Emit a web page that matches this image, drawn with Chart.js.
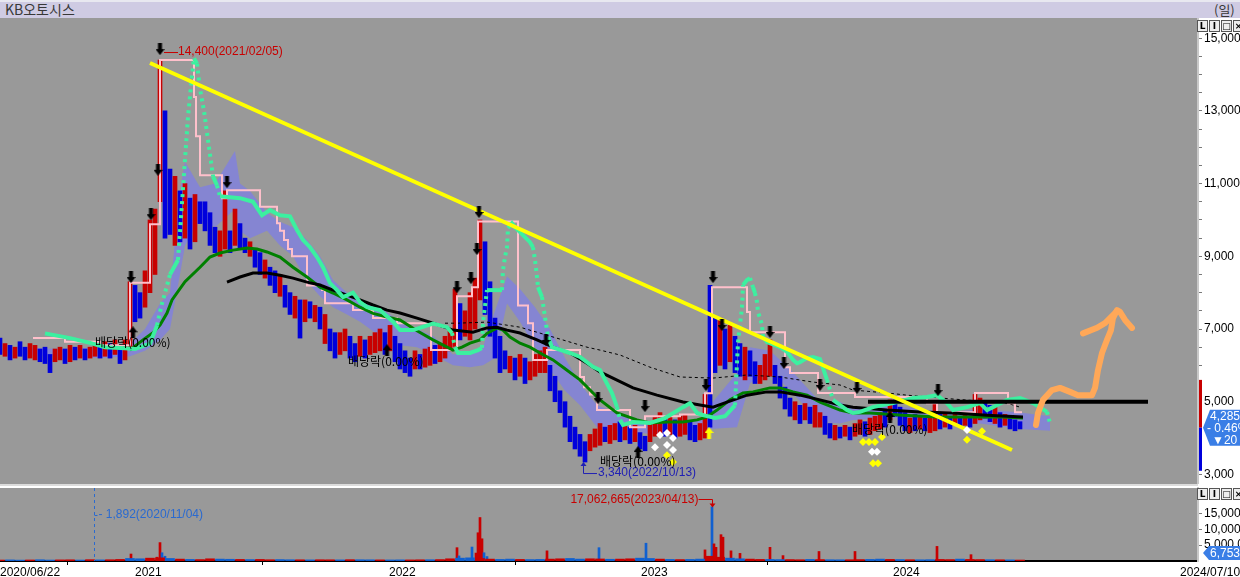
<!DOCTYPE html>
<html>
<head>
<meta charset="utf-8">
<script src="https://cdn.jsdelivr.net/npm/chart.js@4.4.1/dist/chart.umd.min.js"></script>
<style>
  body { margin: 0; width: 1240px; height: 577px; overflow: hidden; background: #fff; position: relative; }
  #title { position: absolute; left: 0; top: 0; width: 1240px; height: 18px; background: #cfcbe3; border-top: 2px solid #e8e8f0; box-sizing: border-box; }
  #title .name { position: absolute; left: 5px; top: -1px; font: 14px/17px 'Noto Sans CJK KR', sans-serif; color: #383838; }
  #title .per { position: absolute; left: 1214px; top: -1px; font: 13px/17px 'Noto Sans CJK KR', sans-serif; color: #383838; white-space: nowrap; }
  #pc { position: absolute; left: 0; top: 18px; }
  #sep { position: absolute; left: 0; top: 484px; width: 1198px; height: 2px; background: #dcdcdc; }
  #vc { position: absolute; left: 0; top: 486px; }
  .ic { position: absolute; left: 1197px; display: flex; gap: 1px; }
  .ic span { width: 9px; height: 10px; border: 1px solid #555; background: #eee; font: bold 9px/10px 'DejaVu Sans', sans-serif; text-align: center; color: #000; }
</style>
</head>
<body>
<div id="title"><span class="name">KB오토시스</span><span class="per">(일)</span></div>
<canvas id="pc" width="1240" height="466"></canvas>
<div id="sep"></div>
<canvas id="vc" width="1240" height="91"></canvas>
<div class="ic" style="top:20px"><span>L</span><span>I</span><span>□</span><span>×</span></div>
<div class="ic" style="top:488px"><span>L</span><span>I</span><span>□</span><span>×</span></div>
<script>
// 일봉: 5거래일마다 고가/저가 (x = 거래일 번호, 2020/06/22 = 0)
const STEP = 5;
const candleLow = [6300,6250,6150,6200,6250,6150,6200,6150,6100,6050, 5800,6100,6150,6050,6100,6150,6200,6150,6200,6250,
  6200,6250,6200,6300,6050,6150,6500,7200,7300,7600, 8000,8500,10500,9500,9600,9300,9400,9500,9200,9400,
  9900,9700,9300,9100,9000,9200,9100,9300,9200,9100, 9000,8700,8500,8400,8200,8000,7900,7600,7400,7300,
  6750,7200,7300,7200,7000,6600,6400,6200,6300,6400, 6200,6100,6250,6200,6300,6350,6400,6300,6400,6100,
  5900,5800,5700,5900,5900,5950,6000,6050,6100,6200, 6400,6500,6700,6800,6700,7000,7800,7400,6800,6200,
  5800,5900,5800,5600,5700,5500,5600,5700,5800,5800, 5300,5000,4700,4300,3900,3700,3500,3340,3650,3750,
  3800,3900,3850,3950,3900,3950,3850,3900,3700,3650, 3900,4050,4100,4050,4100,4000,4050,4100,3950,3900,
  3950,4000,4300,5800,6000,5900,6100,5800,5700,5600, 5700,5500,5500,5600,5700,5500,5100,4800,4600,4500,
  4400,4500,4400,4300,4300,4100,4000,3950,4000,4050, 3950,4050,4100,4050,4100,4200,4250,4300,4500,4600,
  4350,4200,4150,4200,4250,4200,4150,4200,4250,4300, 4250,4350,4300,4350,4300,4400,4500,4550,4450,4400,
  4300,4350,4250,4200,4250];
const candleHigh = [6750,6600,6550,6500,6650,6500,6600,6550,6450,6500, 6300,6450,6500,6450,6550,6500,6550,6450,6500,6600,
  6550,6650,6600,6700,6450,6700,8300,8200,8000,8600, 10000,10300,14400,13000,11400,11200,10800,11000,10600,10700,
  10500,10500,10200,9800,9700,10800,9700,10300,9900,9500, 9400,9200,9100,8900,8700,8600,8500,8200,8000,7900,
  7800,7800,7750,7650,7600,7400,7000,6900,6900,7000, 6800,6600,6800,6700,6800,6900,7000,6900,7100,6800,
  6600,6400,6200,6400,6300,6450,6500,6550,6600,6800, 7000,8100,7700,7500,8000,8400,10000,9400,8300,7300,
  6800,6400,6250,6200,6300,6200,6100,6300,6400,6500, 6000,5700,5300,5000,4600,4300,4100,3900,4100,4250,
  4400,4300,4350,4400,4450,4350,4300,4350,4150,4050, 4400,4600,4700,4550,4600,4500,4600,4650,4450,4350,
  4400,5200,8200,7300,7300,7000,7100,6800,6600,6500, 6400,6100,6000,6300,6700,6000,5700,5400,5100,5000,
  4900,4950,4850,4900,4700,4600,4400,4350,4300,4350, 4300,4400,4500,4450,4550,4600,4700,4750,5050,5050,
  4850,4700,4550,4650,4600,4550,4550,5000,4650,4700, 4600,4700,4600,4650,4600,5200,5100,5000,4900,4850,
  4700,4650,4600,4500,4450];
const candleDir = ('dududduudd' + 'duudududuu' + 'dududuuddu' + 'uuuddududu' + 'dddduududd' +
  'uddudduddu' + 'dudududduu' + 'dduduuudud' + 'ddduduuduu' + 'uuduuuuddd' +
  'ddududuuuu' + 'dddddddduu' + 'uduudududd' + 'uuududuudd' + 'uuddududdu' +
  'dduuuddddu' + 'duduuddudu' + 'duuduuudud' + 'ddududuudu' + 'dududuuddu' + 'duddd').split('');

// 52일 고가형 계단선 [시작일, 값]
const pinkLine = [[33,6750],[65,6650],[100,6550],[130,8270],[150,9880],[160,14400],[194,13380],[196,12300],[200,11230],
  [222,10600],[227,10820],[260,10360],[277,9910],[280,9700],[284,9450],[288,9200],[292,9000],[307,8200],[322,8070],
  [325,7710],[353,7520],[373,7300],[397,7160],[431,6420],[457,7900],[472,8150],[478,9960],[518,7650],[528,7160],
  [533,6150],[547,6420],[580,5680],[584,5400],[590,5200],[597,4770],[630,4300],[645,4600],[680,4650],[705,5230],
  [712,8150],[747,7470],[750,6910],[785,5950],[790,5790],[818,5240],[855,5130],[927,4960],[937,4710],[975,5240],
  [1008,4960],[1015,4710],[1022,4710]];

const mintLine = [[45,6880],[70,6750],[90,6620],[105,6500],[125,6470],[135,6450],[150,6600],[157,7100],[162,7700],
  [170,8500],[178,8900],[185,11650],[188,12850],[191,13680],[194,14450],[197,14300],[200,13600],[204,13000],
  [207,12400],[210,11800],[213,11200],[217,10950],[220,10650],[240,10600],[253,10500],[262,10130],[270,10270],
  [280,10130],[290,10100],[297,9720],[303,9450],[310,9250],[317,8980],[323,8700],[330,8260],[337,8070],[343,7880],
  [353,8000],[360,7740],[367,7600],[380,7520],[393,7200],[400,6970],[413,6970],[433,7150],[447,7050],[452,6890],
  [455,6500],[458,6340],[470,6340],[478,6420],[482,6480],[483,7190],[487,8070],[502,8070],[503,8620],[505,8980],
  [507,9250],[508,9780],[512,9910],[515,9800],[530,9390],[533,9250],[535,8900],[537,8430],[538,8150],[542,7880],
  [545,7330],[548,6780],[552,6500],[570,6340],[580,6230],[593,5960],[600,5870],[605,5600],[612,5240],[617,4850],
  [620,4500],[623,4360],[633,4440],[650,4415],[665,4550],[683,4850],[690,4960],[697,4690],[703,4630],[715,4550],
  [725,4600],[735,4900],[738,6640],[740,7110],[742,7600],[743,8210],[747,8350],[750,8400],[753,8150],[755,7990],
  [757,7740],[758,7470],[760,7300],[762,7110],[763,6780],[767,6640],[780,6500],[787,6370],[793,6150],[797,6060],
  [800,6090],[807,6200],[813,6230],[820,6170],[827,5600],[833,5050],[847,4770],[853,4690],[860,4720],[873,4850],
  [893,4960],[913,5100],[927,5130],[937,5180],[947,4960],[953,4770],[967,4850],[980,4960],[987,4770],[993,4850],
  [1007,5050],[1020,5100],[1033,4960],[1047,4720],[1050,4410]];

const ma60 = [[130,6420],[143,6700],[153,6900],[160,7110],[167,7440],[172,7800],[185,8300],[200,8700],[210,8980],
  [220,9090],[233,9170],[247,9230],[257,9200],[267,9120],[280,8980],[293,8700],[307,8430],[320,8150],[333,7990],
  [347,7800],[360,7600],[373,7430],[387,7330],[400,7250],[417,6950],[433,6700],[453,6420],[462,6500],[470,6610],
  [480,6700],[487,6880],[497,7030],[503,6970],[510,6780],[520,6610],[530,6500],[540,6340],[553,6150],[563,5950],
  [580,5600],[593,5240],[600,5050],[617,4690],[637,4500],[650,4415],[667,4440],[683,4440],[697,4500],[707,4580],
  [717,4770],[730,5050],[743,5240],[753,5270],[770,5380],[780,5380],[793,5270],[807,5180],[820,4990],[840,4770],
  [853,4690],[870,4690],[903,4630],[937,4580],[970,4580],[1003,4580],[1023,4550]];

const ma120 = [[227,8290],[240,8430],[253,8540],[267,8540],[280,8480],[293,8400],[307,8290],[320,8210],[333,8070],
  [347,7930],[360,7800],[373,7660],[387,7520],[400,7440],[417,7300],[433,7160],[453,6970],[473,6910],[487,7030],
  [497,7050],[507,6970],[520,6890],[537,6700],[553,6500],[570,6340],[587,6060],[600,5820],[633,5380],[657,5180],
  [683,4990],[700,4910],[713,4850],[727,4990],[747,5180],[767,5270],[780,5270],[800,5180],[820,5050],[840,4910],
  [853,4850],[887,4770],[920,4720],[953,4690],[987,4630],[1023,4580]];

const ma240 = [[445,7160],[457,7160],[487,7190],[520,7050],[553,6780],[587,6500],[600,6420],[620,6285],[650,5950],
  [680,5680],[713,5650],[747,5735],[780,5680],[813,5540],[840,5460],[853,5320],[887,5240],[907,5180],[950,5080],
  [1007,4960],[1020,4850]];

// 구름대 [일, 상단, 하단]
const cloud = [[20,6500,6300],[60,6450,6250],[100,6500,6200],[130,6600,6250],[145,7000,6400],[160,7700,6700],
  [170,8000,7000],[180,10800,8500],[185,11600,9300],[200,10900,10000],[215,11000,9800],[235,11900,10300],
  [240,11000,9700],[250,10800,9500],[267,10200,9700],[280,9950,9300],[293,9800,9000],[307,9450,8300],
  [320,9000,7900],[333,8350,7600],[347,8000,7400],[360,7800,7200],[380,7600,6800],[400,7200,6550],[417,7000,6500],
  [433,6800,6300],[453,6300,6000],[470,6400,5950],[483,6500,6000],[495,7500,6200],[507,8450,7700],[520,8100,7200],
  [535,7600,6500],[550,7000,5900],[565,6200,5300],[580,5500,4900],[597,4900,4300],[615,4700,4200],[633,4500,4150],
  [660,4400,4100],[700,4500,4150],[710,4900,4250],[737,5800,4300],[750,6500,5500],[770,6400,5900],[790,5900,5300],
  [820,5000,4450],[840,5000,4400],[853,4800,4500],[887,4900,4550],[920,4800,4550],[950,4700,4500],[980,4800,4400],
  [1020,4700,4250],[1050,4600,4200]];

const trendLine = [[150,14318],[1012,3671]];
const resistLine = [[868,5000],[1148,5000]];
const drawnArrow = [[1036,4360],[1038,4690],[1043,5050],[1052,5320],[1060,5380],[1070,5270],[1078,5180],[1092,5180],
  [1095,5380],[1098,5870],[1102,6340],[1107,6700],[1111,6970],[1113,7300],[1117,7520],[1120,7470],[1125,7250],[1132,7030]];
const drawnWing = [[1083,6880],[1097,7030],[1105,7160],[1117,7490]];

const downMarks = [[131,8430],[151,10160],[158,11380],[160,14700],[227,11040],[457,8150],[471,8400],[477,9200],
  [479,10220],[546,6700],[598,5100],[645,4880],[706,5460],[713,8430],[722,7110],[770,6920],[784,6065],[820,5460],
  [857,5380],[938,5320]];
const upMarks = [[133,6910],[387,6420],[638,3615],[890,4580]];
const yellowUp = [[709,4140]];
const whiteDia = [[655,3750],[660,4084],[667,4140],[667,3810],[673,4000],[673,3670],[872,3620],[877,3620],[967,4220]];
const yellowDia = [[667,3530],[673,3340],[863,3890],[869,3890],[875,3890],[882,4030],[873,3310],[878,3310],[967,3950],[982,4190]];
const exDivNotes = [[95,6637],[348,6120],[600,3343],[852,4250]];

const highDay = 160, highVal = 14400, highText = '14,400(2021/02/05)';
const lowDay = 585, lowVal = 3340, lowText = '3,340(2022/10/13)';
const lastClose = 4285, lastChange = '- 0.46%', lastDiff = '▼20';

// 거래량 (천주), 10거래일마다
const volBase = [300,350,280,320,400,300,350,380,300,420,350,400,500,
  800,700,900,1000,800,600,500,450,
  700,600,550,500,450,500,400,450,400,380,
  350,400,380,350,420,400,380,350,330,360,340,380,400,450,
  700,900,1000,800,600,500,
  600,500,450,500,600,700,800,600,700,650,
  550,600,700,900,800,600,500,450,500,600,
  1500,1200,900,700,600,500,500,450,450,400,
  500,450,400,380,400,450,500,600,500,450,
  400,380,420,500,450,600,500,450,400,380,350,300];
const volBaseDir = ('uddudduudu' + 'duudduudud' + 'uudduduudd' + 'uduududdud' + 'duuduudduu' +
  'ddudduuddu' + 'uduuddudud' + 'duudduuddu' + 'ududduuddu' + 'dudduuduud' + 'udu').split('');
const spikeDay = [131,157,160,162,165,457,459,472,476,478,480,482,484,487,547,599,646,705,711,712,714,716,721,723,731,740,770,783,819,855,937,971];
const spikeVol = [2200,1200,5800,2600,1500,4200,1600,4400,2500,8900,13700,7000,2600,1400,3200,4200,5600,3500,1000,17062.665,5400,4300,8300,7500,3200,2400,4300,1700,3000,3000,4600,2000];
const spikeDir = 'uuuddudduuuuddudduuduuuuuuuuuuuu'.split('');
const maxVol = {day: 712, val: 17062665, text: '17,062,665(2023/04/13)'};
const minVol = {day: 94, text: '- 1,892(2020/11/04)'};
const lastVol = '6,753';

const xTickDays = [0, 135, 389, 641, 893, 1180];
const xTickLabels = ['2020/06/22', '2021', '2022', '2023', '2024', '2024/07/10'];

const RED = '#c80000', BLUE = '#0000dc', GRAY = '#999999', BADGE = '#3a7ee6';
Chart.defaults.font.family = "'Liberation Sans', Arial, sans-serif";
Chart.defaults.font.size = 12;

const pts = arr => arr.map(p => ({x: p[0], y: p[1]}));
const noPad = s => { s.paddingTop = 0; s.paddingBottom = 0; s.paddingLeft = 0; s.paddingRight = 0; };

function arrowImg(color, up) {
  const c = document.createElement('canvas');
  c.width = 9; c.height = 12;
  const g = c.getContext('2d');
  g.fillStyle = color;
  g.beginPath();
  if (up) {
    g.moveTo(4.5, 0); g.lineTo(9, 6); g.lineTo(6.5, 6); g.lineTo(6.5, 12); g.lineTo(2.5, 12); g.lineTo(2.5, 6); g.lineTo(0, 6);
  } else {
    g.moveTo(2.5, 0); g.lineTo(6.5, 0); g.lineTo(6.5, 6); g.lineTo(9, 6); g.lineTo(4.5, 12); g.lineTo(0, 6); g.lineTo(2.5, 6);
  }
  g.closePath();
  g.fill();
  return c;
}

const grayBg = {
  id: 'grayBg',
  beforeDraw(chart) {
    const {ctx, chartArea: a} = chart;
    ctx.save();
    ctx.fillStyle = GRAY;
    ctx.fillRect(a.left, a.top, a.right - a.left, a.bottom - a.top);
    ctx.restore();
  }
};

const priceNotes = {
  id: 'priceNotes',
  afterDatasetsDraw(chart) {
    const {ctx, scales: {x, y}} = chart;
    ctx.save();
    ctx.textBaseline = 'middle';
    ctx.lineWidth = 1;
    // 최고가
    let px = x.getPixelForValue(highDay), py = y.getPixelForValue(highVal) - 8;
    ctx.strokeStyle = RED; ctx.fillStyle = RED;
    ctx.beginPath(); ctx.moveTo(px + 4, py + 0.5); ctx.lineTo(px + 18, py + 0.5); ctx.stroke();
    ctx.font = "12px 'Liberation Sans'";
    ctx.fillText(highText, px + 18, py);
    // 최저가
    px = x.getPixelForValue(lowDay) - 2; py = y.getPixelForValue(lowVal);
    ctx.strokeStyle = '#2020b4'; ctx.fillStyle = '#2020b4';
    ctx.beginPath(); ctx.moveTo(px + 0.5, py + 2); ctx.lineTo(px + 0.5, py + 11.5); ctx.lineTo(px + 14, py + 11.5); ctx.stroke();
    ctx.beginPath(); ctx.moveTo(px + 0.5, py); ctx.lineTo(px + 3.5, py + 4); ctx.lineTo(px - 2.5, py + 4); ctx.fill();
    ctx.fillText(lowText, px + 15, py + 11);
    // 배당락
    ctx.fillStyle = '#000';
    ctx.font = "12px 'Noto Sans CJK KR'";
    exDivNotes.forEach(n => ctx.fillText('배당락(0.00%)', x.getPixelForValue(n[0]), y.getPixelForValue(n[1])));
    ctx.restore();
  },
  afterDraw(chart) {
    const {ctx, scales: {y}, chartArea: a, width} = chart;
    const yc = y.getPixelForValue(lastClose);
    ctx.save();
    ctx.fillStyle = RED;
    ctx.fillRect(a.right + 1, y.getPixelForValue(5600), 3, yc - y.getPixelForValue(5600));
    ctx.fillStyle = BLUE;
    ctx.fillRect(a.right + 1, yc, 3, y.getPixelForValue(3100) - yc);
    ctx.fillStyle = BADGE;
    ctx.beginPath();
    ctx.moveTo(a.right + 5, yc); ctx.lineTo(a.right + 12, yc - 18); ctx.lineTo(width, yc - 18);
    ctx.lineTo(width, yc + 18); ctx.lineTo(a.right + 12, yc + 18); ctx.closePath(); ctx.fill();
    ctx.fillStyle = '#fff';
    ctx.textBaseline = 'middle';
    ctx.font = "12px 'Liberation Sans'";
    ctx.fillText(lastClose.toLocaleString('en-US'), a.right + 12, yc - 11);
    ctx.fillText(lastChange, a.right + 9, yc + 1);
    ctx.fillText(lastDiff, a.right + 14, yc + 13);
    ctx.restore();
  }
};

const volNotes = {
  id: 'volNotes',
  afterDatasetsDraw(chart) {
    const {ctx, scales: {x, y}, chartArea: a} = chart;
    ctx.save();
    ctx.textBaseline = 'middle';
    ctx.font = "12px 'Liberation Sans'";
    // 최소 거래량
    let px = Math.round(x.getPixelForValue(minVol.day)) + 0.5;
    ctx.strokeStyle = '#2a6ad0'; ctx.fillStyle = '#2a6ad0'; ctx.lineWidth = 1;
    ctx.setLineDash([3, 3]);
    ctx.beginPath(); ctx.moveTo(px, a.top); ctx.lineTo(px, a.bottom); ctx.stroke();
    ctx.setLineDash([]);
    ctx.beginPath(); ctx.moveTo(px, a.top + 27.5); ctx.lineTo(px + 3, a.top + 27.5); ctx.stroke();
    ctx.fillText(minVol.text, px + 4, a.top + 27);
    // 최대 거래량
    px = Math.round(x.getPixelForValue(maxVol.day)) + 0.5;
    const py = Math.round(y.getPixelForValue(maxVol.val)) - 7.5;
    ctx.strokeStyle = RED; ctx.fillStyle = RED;
    ctx.beginPath(); ctx.moveTo(px - 14, py); ctx.lineTo(px, py); ctx.lineTo(px, py + 6); ctx.stroke();
    ctx.beginPath(); ctx.moveTo(px - 3, py + 4); ctx.lineTo(px + 3, py + 4); ctx.lineTo(px, py + 8); ctx.fill();
    ctx.textAlign = 'right';
    ctx.fillText(maxVol.text, px - 14, py);
    ctx.restore();
  },
  afterDraw(chart) {
    const {ctx, chartArea: a, width} = chart;
    const yc = a.bottom - 8;
    ctx.save();
    ctx.fillStyle = BADGE;
    ctx.beginPath();
    ctx.moveTo(a.right + 5, yc); ctx.lineTo(a.right + 11, yc - 7); ctx.lineTo(width, yc - 7);
    ctx.lineTo(width, yc + 7); ctx.lineTo(a.right + 11, yc + 7); ctx.closePath(); ctx.fill();
    ctx.fillStyle = '#fff';
    ctx.textBaseline = 'middle';
    ctx.font = "12px 'Liberation Sans'";
    ctx.fillText(lastVol, a.right + 12, yc + 1);
    ctx.restore();
  }
};

const lineDs = (data, color, width, order, extra) => Object.assign({
  type: 'line', data: pts(data), borderColor: color, borderWidth: width, pointRadius: 0,
  fill: false, tension: 0, order: order
}, extra || {});

new Chart(document.getElementById('pc'), {
  type: 'line',
  data: {
    datasets: [
      lineDs(cloud.map(c => [c[0], c[1]]), 'rgba(0,0,0,0)', 0, 30, {fill: '+1', backgroundColor: '#8585d2'}),
      lineDs(cloud.map(c => [c[0], c[2]]), 'rgba(0,0,0,0)', 0, 29),
      {
        type: 'bar', order: 20, grouped: false, barThickness: 4,
        data: candleLow.map((lo, i) => ({x: i * STEP, y: [lo, candleHigh[i]]})),
        backgroundColor: candleDir.map(d => d === 'u' ? RED : BLUE)
      },
      lineDs(ma240, '#000', 1, 15, {borderDash: [3, 3]}),
      lineDs(pinkLine, '#ffc0cb', 2, 14, {stepped: true}),
      lineDs(ma60, '#008000', 3, 13),
      lineDs(ma120, '#000', 3, 12),
      lineDs(mintLine, '#3cf0a0', 4, 11, {
        segment: { borderDash: c => Math.abs(c.p1.y - c.p0.y) > 3 * Math.abs(c.p1.x - c.p0.x) ? [3, 4] : undefined }
      }),
      lineDs(trendLine, '#ffff00', 4, 6),
      lineDs(resistLine, '#000', 4, 6),
      lineDs(drawnArrow, '#ffa858', 6, 5, {borderCapStyle: 'round', borderJoinStyle: 'round'}),
      lineDs(drawnWing, '#ffa858', 6, 5, {borderCapStyle: 'round'}),
      {type: 'scatter', order: 2, data: pts(downMarks), pointStyle: arrowImg('#000', false), pointRadius: 5},
      {type: 'scatter', order: 2, data: pts(upMarks), pointStyle: arrowImg('#000', true), pointRadius: 5},
      {type: 'scatter', order: 2, data: pts(yellowUp), pointStyle: arrowImg('#ffff00', true), pointRadius: 5},
      {type: 'scatter', order: 1, data: pts(whiteDia), pointStyle: 'rectRot', pointRadius: 4, backgroundColor: '#fff', borderWidth: 0},
      {type: 'scatter', order: 1, data: pts(yellowDia), pointStyle: 'rectRot', pointRadius: 4, backgroundColor: '#ffff00', borderWidth: 0}
    ]
  },
  options: {
    responsive: false, animation: false, events: [],
    layout: {padding: 0, autoPadding: false},
    plugins: {legend: {display: false}, tooltip: {enabled: false}},
    scales: {
      x: {type: 'linear', min: 0, max: 1198, display: false, offset: false},
      y: {
        type: 'linear', position: 'right', min: 2736, max: 15556,
        afterFit: s => { s.width = 42; noPad(s); },
        afterBuildTicks: s => { const t = []; for (let v = 3000; v <= 15500; v += 500) t.push({value: v}); s.ticks = t; },
        ticks: {autoSkip: false, color: '#000', padding: 2, font: {size: 12},
          callback: v => v % 2000 === 1000 ? v.toLocaleString('en-US') : ''},
        grid: {drawOnChartArea: false, tickLength: 4, color: '#7a7a7a'},
        border: {color: '#c8c8c8', width: 2}
      }
    }
  },
  plugins: [grayBg, priceNotes]
});

new Chart(document.getElementById('vc'), {
  type: 'bar',
  data: {
    datasets: [
      {
        grouped: false, barThickness: 9,
        data: volBase.map((v, i) => ({x: i * 10, y: v * 1000})),
        backgroundColor: volBaseDir.map(d => d === 'u' ? RED : '#1060d0')
      },
      {
        grouped: false, barThickness: 2,
        data: spikeDay.map((d, i) => ({x: d, y: spikeVol[i] * 1000})),
        backgroundColor: spikeDir.map(d => d === 'u' ? RED : '#1060d0')
      }
    ]
  },
  options: {
    responsive: false, animation: false, events: [],
    layout: {padding: {top: 2, left: 0, right: 0, bottom: 0}, autoPadding: false},
    plugins: {legend: {display: false}, tooltip: {enabled: false}},
    scales: {
      x: {
        type: 'linear', min: 0, max: 1198, offset: false,
        afterFit: s => { s.height = 16; noPad(s); },
        afterBuildTicks: s => { s.ticks = xTickDays.map(v => ({value: v})); },
        ticks: {autoSkip: false, align: 'start', maxRotation: 0, padding: 0, color: '#000', font: {size: 12},
          callback: (v, i) => xTickLabels[i]},
        grid: {drawOnChartArea: false, tickLength: 4, color: c => (c.tick && c.tick.value === 1180) ? 'rgba(0,0,0,0)' : '#000'},
        border: {color: '#000', width: 2}
      },
      y: {
        type: 'linear', position: 'right', min: 0, max: 23000000,
        afterFit: s => { s.width = 42; noPad(s); },
        afterBuildTicks: s => { s.ticks = [5e6, 10e6, 15e6, 20e6].map(v => ({value: v})); },
        ticks: {autoSkip: false, color: '#000', padding: 2, font: {size: 12},
          callback: v => v < 20e6 ? v.toLocaleString('en-US') : ''},
        grid: {drawOnChartArea: false, tickLength: 4, color: '#7a7a7a'},
        border: {color: '#c8c8c8', width: 2}
      }
    }
  },
  plugins: [grayBg, volNotes]
});
</script>
</body>
</html>
